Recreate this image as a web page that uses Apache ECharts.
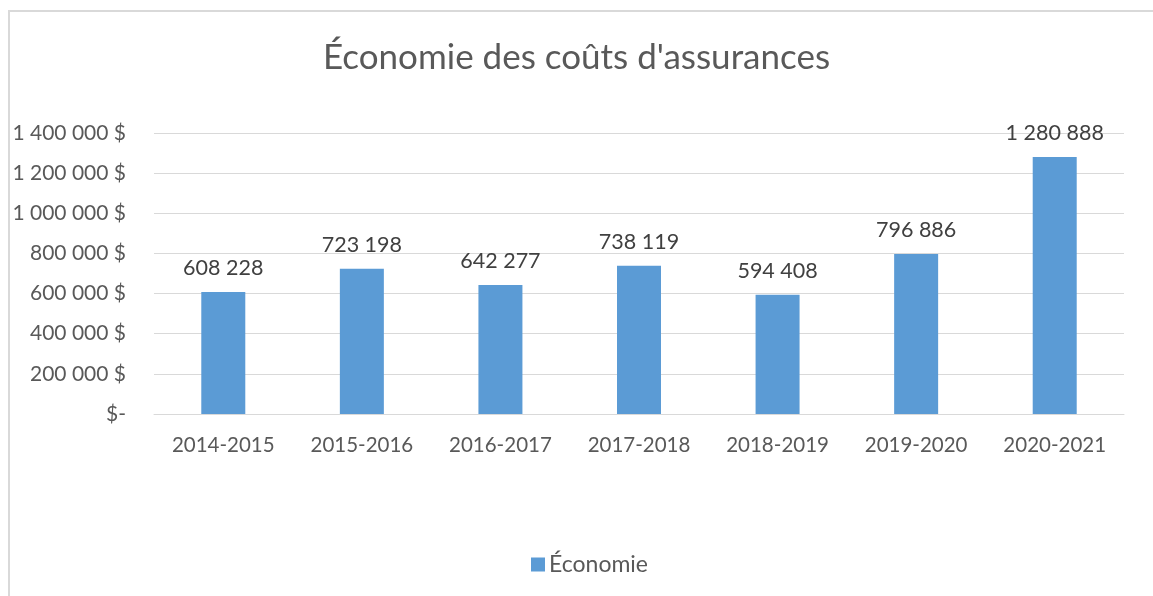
<!DOCTYPE html>
<html>
<head>
<meta charset="utf-8">
<script src="https://cdn.jsdelivr.net/npm/echarts@6/dist/echarts.min.js"></script>
<style>
    html, body { margin: 0; padding: 0; background: #fff; overflow: hidden; }
    #frame {
        position: absolute; left: 8px; top: 10px;
        width: 1300px; height: 700px;
        border-top: 2px solid #d9d9d9; border-left: 2px solid #d9d9d9;
    }
    #main { position: absolute; left: 0; top: 0; width: 1153px; height: 596px; }
</style>
</head>
<body>
<div id="frame"></div>
<div id="main"></div>
<script>
// données du graphique
const periodes = ['2014-2015', '2015-2016', '2016-2017', '2017-2018', '2018-2019', '2019-2020', '2020-2021'];
const economies = [608228, 723198, 642277, 738119, 594408, 796886, 1280888];
const nomSerie = 'Économie';
const titre = "Économie des coûts d'assurances";

// format "1 400 000"
function grouper(v) {
    return String(Math.round(v)).replace(/\B(?=(\d{3})+(?!\d))/g, ' ');
}

const police = 'Lato, "Open Sans", sans-serif';
const chart = echarts.init(document.getElementById('main'));

const option = {
    backgroundColor: 'transparent',
    title: {
        text: titre,
        left: 'center',
        top: 35,
        textStyle: { fontFamily: police, fontSize: 35, fontWeight: 'normal', color: '#595959' }
    },
    legend: {
        data: [nomSerie],
        bottom: 15,
        left: 526,
        icon: 'rect',
        itemWidth: 14,
        itemHeight: 14,
        itemGap: 5,
        textStyle: { fontFamily: police, fontSize: 23, color: '#595959', padding: [0, 0, 0, -1] }
    },
    grid: { left: 154, right: 29, top: 133, bottom: 182 },
    xAxis: {
        type: 'category',
        data: periodes,
        axisLine: { lineStyle: { color: '#d9d9d9', width: 1 } },
        axisTick: { show: false },
        axisLabel: { fontFamily: police, fontSize: 20.5, color: '#595959', margin: 21 }
    },
    yAxis: {
        type: 'value',
        min: 0,
        max: 1400000,
        interval: 200000,
        axisLine: { show: false },
        axisTick: { show: false },
        splitLine: { lineStyle: { color: '#d9d9d9', width: 1 } },
        axisLabel: {
            fontFamily: police, fontSize: 21, color: '#595959', margin: 28,
            formatter: function (v) { return v === 0 ? '$-' : grouper(v) + ' $'; }
        }
    },
    series: [{
        name: nomSerie,
        type: 'bar',
        data: economies,
        barWidth: 44,
        itemStyle: { color: '#5b9bd5' },
        label: {
            show: true,
            position: 'top',
            distance: 13,
            fontFamily: police,
            fontSize: 21.5,
            color: '#404040',
            formatter: function (p) { return grouper(p.value); }
        }
    }]
};

chart.setOption(option);
</script>
</body>
</html>
